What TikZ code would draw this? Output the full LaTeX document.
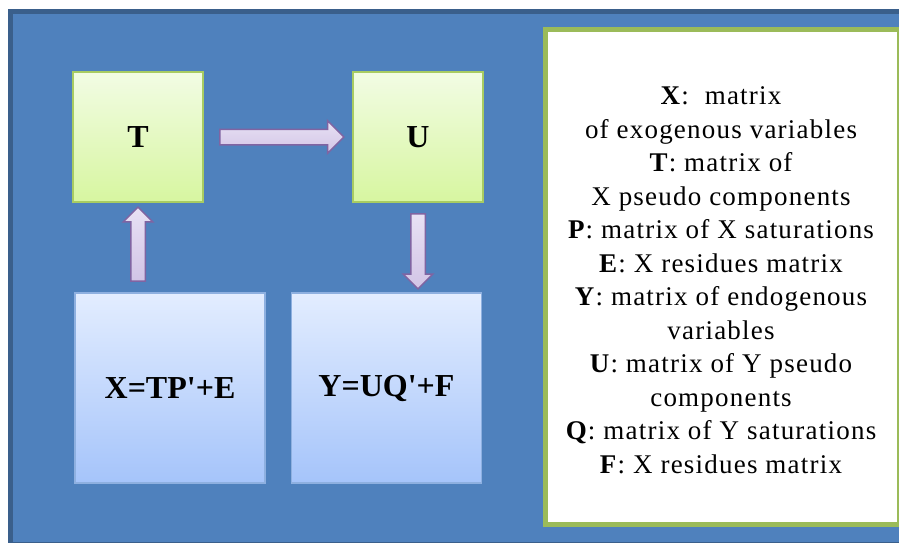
\documentclass[tikz,border=0pt]{standalone}
\usepackage{fontspec}
\setmainfont{Liberation Serif}
\usetikzlibrary{shapes.arrows,positioning}
\definecolor{pBlue}{HTML}{4F81BD}
\definecolor{pDarkBlue}{HTML}{3A5F8B}
\definecolor{pGreen}{HTML}{9BBB59}
\definecolor{pLightGreen}{HTML}{A8CC62}
\definecolor{pPurple}{HTML}{8064A2}
\definecolor{pEdgeBlue}{HTML}{8EB0E0}
\tikzset{
    greenbox/.style={rectangle, draw=pLightGreen, line width=2pt, minimum width=130pt, minimum height=130pt,
        top color={rgb,255:red,242;green,252;blue,228}, bottom color={rgb,255:red,215;green,246;blue,160},
        font=\fontsize{32}{36}\selectfont\bfseries},
    bluebox/.style={rectangle, draw=pEdgeBlue, line width=1.2pt, minimum width=190pt, minimum height=190pt,
        top color={rgb,255:red,227;green,237;blue,255}, bottom color={rgb,255:red,165;green,196;blue,250},
        font=\fontsize{32}{36}\selectfont\bfseries},
    blockarrow/.style={single arrow, draw=pPurple, line width=1.5pt, inner xsep=0pt, inner ysep=7pt,
        single arrow head extend=8.5pt, top color={rgb,255:red,232;green,225;blue,244},
        bottom color={rgb,255:red,210;green,196;blue,230}}
}
\begin{document}
\begin{tikzpicture}[x=1pt,y=-1pt]
\useasboundingbox[fill=white] (0,0) rectangle (899,543);
\begin{scope}
\clip (0,0) rectangle (899,543);
\draw[line width=5pt,pDarkBlue,fill=pBlue] (10.5,11.5) rectangle (910,544);
\draw[line width=5pt,pGreen,fill=white] (545.5,29.5) rectangle (899.5,524.5);
\end{scope}
\node[greenbox] (T) at (138,137) {T};
\node[greenbox] (U) at (418,137) {U};
\node[bluebox] (XE) at (170,388) {X=TP\textquotesingle+E};
\node[bluebox] (YF) at (386.5,388) {Y=UQ\textquotesingle+F};
\path (T) -- node[blockarrow, minimum height=124pt] {} (U);
\path (T.south) -- node[blockarrow, rotate=90, minimum height=74pt, inner ysep=6.5pt, single arrow head extend=7.5pt] {} (T.south |- XE.north);
\path (U.south) -- node[blockarrow, rotate=-90, minimum height=75pt, inner ysep=6.5pt, single arrow head extend=7.5pt] {} (U.south |- YF.north);
\node[align=center, font=\fontsize{27}{33.5}\selectfont\addfontfeature{LetterSpace=4.5}] (legend) at (721,280) {%
\textbf{X}:\ \ matrix\\
of exogenous variables\\
\textbf{T}: matrix of\\
X pseudo components\\
\textbf{P}: matrix of X saturations\\
\textbf{E}: X residues matrix\\
\textbf{Y}: matrix of endogenous\\
variables\\
\textbf{U}: matrix of Y pseudo\\
components\\
\textbf{Q}: matrix of Y saturations\\
\textbf{F}: X residues matrix};
\end{tikzpicture}
\end{document}
